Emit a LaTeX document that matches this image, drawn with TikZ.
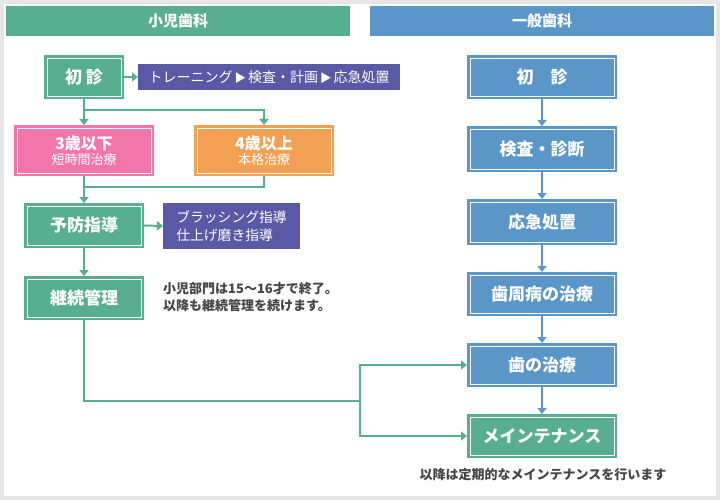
\documentclass[tikz,border=0pt]{standalone}
\usepackage{fontspec}
\setmainfont{Noto Sans CJK JP}
\usetikzlibrary{arrows.meta}
\definecolor{cgreen}{HTML}{58AE91}
\definecolor{cblue}{HTML}{5A96C8}
\definecolor{cpink}{HTML}{F376AA}
\definecolor{corange}{HTML}{F1A054}
\definecolor{cpurple}{HTML}{5A59A5}
\definecolor{cgray}{HTML}{E6E6E6}
\definecolor{ctext}{HTML}{464646}
\newcommand{\fs}[1]{\fontsize{#1}{#1}\selectfont}
\newcommand{\tri}{\hspace{2pt}{\fs{11.5}▶}\hspace{2pt}}
\newcommand{\inbox}[1]{\draw[white,line width=0.9pt] ([xshift=3pt,yshift=-3pt]#1.north west) rectangle ([xshift=-3pt,yshift=3pt]#1.south east);}
\begin{document}
\begin{tikzpicture}[x=1pt,y=-1pt,
  box/.style={fill=#1,draw=none,inner sep=0pt,outer sep=0pt,text=white,align=center},
  big/.style={font=\bfseries\fs{17}},
  hdr/.style={fill=#1,inner sep=0pt,outer sep=0pt,text=white,font=\bfseries\fs{15},minimum width=344pt,minimum height=30pt},
  purp/.style={fill=cpurple,inner sep=0pt,outer sep=0pt,text=white,font=\fs{14}},
  garr/.style={draw=cgreen,line width=2pt,-{Triangle[width=9pt,length=6pt]}},
  gline/.style={draw=cgreen,line width=2pt},
  barr/.style={draw=cblue,line width=2pt,-{Triangle[width=9pt,length=6pt]}},
  note/.style={text=ctext,font=\bfseries\fs{13},inner sep=0pt}
]
\useasboundingbox (0,0) rectangle (720,500);
\fill[cgray] (0,0) rectangle (720,500);
\fill[white] (4,4) rectangle (716,496);

% headers
\node[hdr=cgreen] (H1) at (178,21) {小児歯科};
\node[hdr=cblue] (H2) at (542,21) {一般歯科};

% left column
\node[box=cgreen,big,minimum width=80pt,minimum height=44pt] (L1) at (84,77) {初 診};
\node[purp,minimum width=262pt,minimum height=26pt] (P1) at (269,77) {トレーニング\tri 検査・計画\tri 応急処置};
\node[box=cpink,minimum width=140pt,minimum height=51pt] (L2) at (84,150.5) {{\bfseries\fs{16}3歳以下}\\[1pt]{\fs{13}短時間治療}};
\node[box=corange,minimum width=140pt,minimum height=51pt] (L3) at (264,150.5) {{\bfseries\fs{16}4歳以上}\\[1pt]{\fs{13}本格治療}};
\node[box=cgreen,big,minimum width=120pt,minimum height=45pt] (L4) at (84,225.5) {予防指導};
\node[purp,minimum width=137pt,minimum height=46pt,align=left,text width=110.4pt] (P2) at (231.5,226) {\fs{13.8}ブラッシング指導\\[4pt]仕上げ磨き指導};
\node[box=cgreen,big,minimum width=120pt,minimum height=44pt] (L5) at (84,298) {継続管理};
\node[note,anchor=west,align=left] (N1) at (163,297) {小児部門は15〜16才で終了。\\[4pt]以降も継続管理を続けます。};

\inbox{L1}\inbox{L2}\inbox{L3}\inbox{L4}\inbox{L5}

% right column
\node[box=cblue,big,minimum width=150pt,minimum height=44pt] (R1) at (542,77) {初\hspace{1em}診};
\node[box=cblue,big,minimum width=150pt,minimum height=46pt] (R2) at (542,149) {検査・診断};
\node[box=cblue,big,minimum width=150pt,minimum height=46pt] (R3) at (542,222) {応急処置};
\node[box=cblue,big,minimum width=150pt,minimum height=44pt] (R4) at (542,294) {歯周病の治療};
\node[box=cblue,big,minimum width=150pt,minimum height=44pt] (R5) at (542,365) {歯の治療};
\node[box=cgreen,big,minimum width=150pt,minimum height=44pt] (R6) at (542,436) {メインテナンス};
\node[note] (N2) at (543,475) {以降は定期的なメインテナンスを行います};

\inbox{R1}\inbox{R2}\inbox{R3}\inbox{R4}\inbox{R5}\inbox{R6}

% junction coordinates
\coordinate (j1) at (84,110);
\coordinate (j2) at (84,187);
\coordinate (j3) at (360,401);

% left connectors
\draw[garr] (L1.east) -- (P1.west);
\draw[garr] (L1.south) -- (L2.north);
\draw[garr] (j1) -| (L3.north);
\draw[garr] (L2.south) -- (L4.north);
\draw[gline] (L3.south) |- (j2);
\draw[garr] (L4.east) -- (P2.west);
\draw[garr] (L4.south) -- (L5.north);
\draw[gline] (L5.south) |- (j3);
\draw[garr] (j3) |- (R5.west);
\draw[garr] (j3) |- (R6.west);

% right connectors
\draw[barr] (R1.south) -- (R2.north);
\draw[barr] (R2.south) -- (R3.north);
\draw[barr] (R3.south) -- (R4.north);
\draw[barr] (R4.south) -- (R5.north);
\draw[barr] (R5.south) -- (R6.north);
\end{tikzpicture}
\end{document}
